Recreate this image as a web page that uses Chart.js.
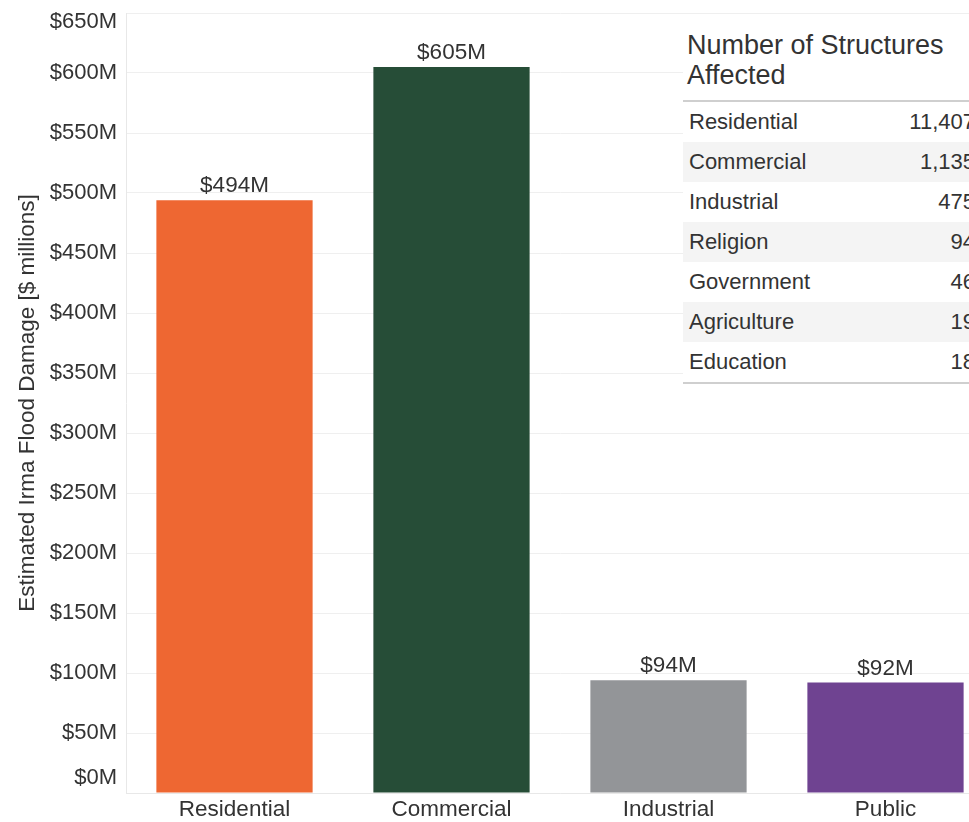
<!DOCTYPE html>
<html>
<head>
<meta charset="utf-8">
<script src="https://cdn.jsdelivr.net/npm/chart.js@4.4.1/dist/chart.umd.min.js"></script>
<style>
    html, body { margin: 0; padding: 0; background: #fff; overflow: hidden; }
    #wrap { position: relative; width: 1000px; height: 822px; }
    #damageChart { position: absolute; left: 0; top: 0; }
    #structures {
        position: absolute; left: 683px; top: 30px; width: 292px;
        background: #fff; font-family: "Liberation Sans", Arial, sans-serif; color: #333;
    }
    #structures .title {
        font-size: 27px; line-height: 30px; height: 70px; padding-left: 4px;
        border-bottom: 2px solid #cfcfcf;
    }
    #structures .row {
        display: flex; justify-content: space-between; height: 40px; line-height: 39px;
        font-size: 22px; padding-left: 6px;
    }
    #structures .row:nth-child(even) { background: #f4f4f4; }
    #structures .rows { border-bottom: 2px solid #cfcfcf; }
</style>
</head>
<body>
<div id="wrap">
    <canvas id="damageChart" width="1000" height="822"></canvas>
    <div id="structures">
        <div class="title">Number of Structures<br>Affected</div>
        <div class="rows" id="structureRows"></div>
    </div>
</div>
<script>
const categories = ['Residential', 'Commercial', 'Industrial', 'Public'];
const damage = [494, 605, 94, 92];
const barColors = ['#ee6732', '#264d37', '#939598', '#6f4391'];
const yTickValues = [0, 50, 100, 150, 200, 250, 300, 350, 400, 450, 500, 550, 600, 650];

const structureTypes = ['Residential', 'Commercial', 'Industrial', 'Religion', 'Government', 'Agriculture', 'Education'];
const structureCounts = ['11,407', '1,135', '475', '94', '46', '19', '18'];

const FONT = '"Liberation Sans", Arial, sans-serif';
const TEXT = '#333333';

// fill the structures table
const rowsDiv = document.getElementById('structureRows');
structureTypes.forEach((name, i) => {
    const row = document.createElement('div');
    row.className = 'row';
    row.innerHTML = `<span>${name}</span><span>${structureCounts[i]}</span>`;
    rowsDiv.appendChild(row);
});

function money(v) {
    return '$' + v + 'M';
}

// y tick labels drawn by hand so the top and bottom ones stay inside the plot
const labelsPlugin = {
    id: 'labels',
    afterDraw(chart) {
        const ctx = chart.ctx;
        const y = chart.scales.y;
        const area = chart.chartArea;
        ctx.save();
        ctx.font = '22px ' + FONT;
        ctx.fillStyle = TEXT;
        ctx.textAlign = 'right';
        ctx.textBaseline = 'middle';
        yTickValues.forEach(v => {
            let py = y.getPixelForValue(v);
            py = Math.min(Math.max(py, area.top + 9), area.bottom - 15);
            ctx.fillText(money(v), area.left - 9, py);
        });

        // value labels above bars
        ctx.font = '22.5px ' + FONT;
        ctx.textAlign = 'center';
        ctx.textBaseline = 'bottom';
        chart.getDatasetMeta(0).data.forEach((bar, i) => {
            ctx.fillText(money(damage[i]), bar.x, bar.y - 3);
        });
        ctx.restore();
    }
};

new Chart(document.getElementById('damageChart'), {
    type: 'bar',
    data: {
        labels: categories,
        datasets: [{
            data: damage,
            backgroundColor: barColors,
            borderWidth: 0,
            barPercentage: 0.72,
            categoryPercentage: 1
        }]
    },
    options: {
        responsive: false,
        animation: false,
        layout: { padding: { top: 13, right: 6, left: 0, bottom: 0 } },
        plugins: {
            legend: { display: false },
            tooltip: { enabled: false }
        },
        scales: {
            x: {
                grid: { display: false, drawTicks: false },
                border: { color: '#e8e8e8' },
                ticks: {
                    color: TEXT,
                    font: { family: FONT, size: 22.5 },
                    padding: 3,
                    maxRotation: 0
                },
                afterFit(scale) { scale.height = 29; }
            },
            y: {
                min: 0,
                max: 650,
                ticks: { stepSize: 50, display: false },
                grid: { color: '#efefef', drawTicks: false },
                border: { color: '#e8e8e8' },
                title: {
                    display: true,
                    text: 'Estimated Irma Flood Damage [$ millions]',
                    color: TEXT,
                    font: { family: FONT, size: 22.5 },
                    padding: { top: 14, bottom: 0 }
                },
                afterFit(scale) { scale.width = 126; }
            }
        }
    },
    plugins: [labelsPlugin]
});
</script>
</body>
</html>
